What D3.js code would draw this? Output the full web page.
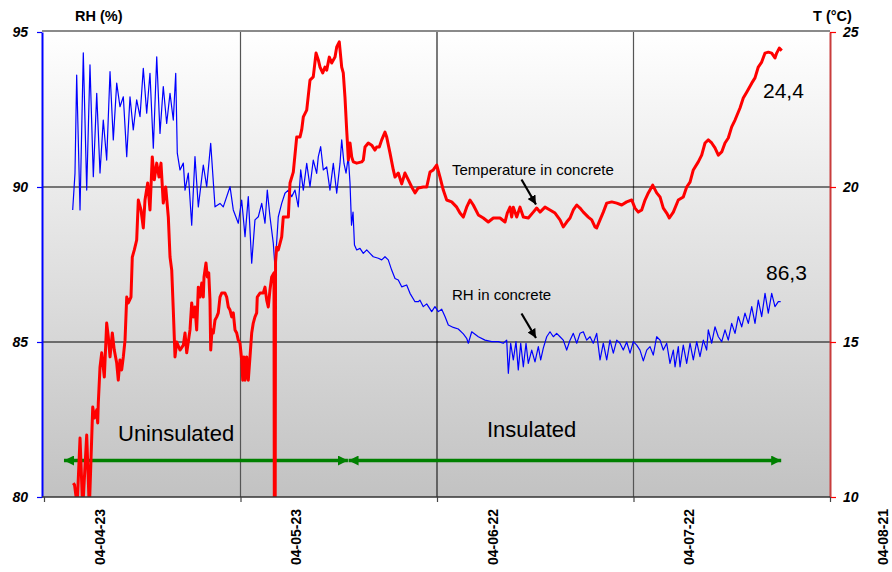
<!DOCTYPE html>
<html>
<head>
<meta charset="utf-8">
<script src="https://cdn.jsdelivr.net/npm/d3@7"></script>
<style>
  body { margin: 0; background: #fff; }
  svg { display: block; }
  text { font-family: "Liberation Sans", Arial, sans-serif; }
</style>
</head>
<body>
<svg id="chart" width="892" height="572"></svg>
<script>
// Axis labels and ticks
const dateLabels = ["04-04-23", "04-05-23", "04-06-22", "04-07-22", "04-08-21"];
const rhTicks = [80, 85, 90, 95];
const tempTicks = [10, 15, 20, 25];

// Readings: [day since 2004-04-14 12:00, value]
const rhReadings = [
  [4.38,89.26],[4.73,90.44],[4.99,93.61],[5.50,89.26],[6.00,94.33],[6.52,89.90],[7.02,93.94],[7.53,90.33],
  [8.05,93.02],[8.55,90.45],[9.05,92.16],[9.57,90.87],[10.08,93.72],[10.58,91.52],[11.10,93.35],[11.60,92.59],
  [12.11,92.91],[12.63,90.98],[13.13,92.91],[13.63,91.84],[14.15,92.81],[14.66,92.27],[15.16,93.83],[15.68,92.38],
  [16.18,93.67],[16.69,91.25],[17.21,94.20],[17.71,91.73],[18.21,93.24],[18.73,92.05],[19.24,93.02],[19.74,92.16],
  [20.11,93.67],[20.35,91.09],[20.76,90.55],[21.27,90.77],[21.53,89.90],[22.03,90.45],[22.55,88.77],[23.05,90.98],
  [23.56,89.36],[24.32,90.71],[24.84,90.01],[25.45,91.41],[26.11,89.36],[26.87,89.47],[27.37,89.36],[28.40,90.01],
  [28.90,89.26],[29.66,88.83],[30.18,89.58],[30.69,88.40],[31.19,89.69],[31.71,87.54],[32.21,88.94],[32.72,89.04],
  [33.24,89.47],[33.74,88.83],[34.09,89.90],[34.50,89.04],[35.01,88.18],[35.27,87.39],[35.77,89.04],[36.29,89.47],
  [36.79,89.80],[37.30,89.90],[37.82,89.69],[38.32,89.90],[38.82,89.36],[39.19,90.55],[39.59,89.90],[40.11,90.76],
  [40.61,90.01],[41.11,90.87],[41.63,90.44],[41.88,90.98],[42.24,91.30],[42.64,90.55],[43.16,90.65],[43.66,89.90],
  [44.17,90.76],[44.69,89.80],[45.19,90.76],[45.45,91.52],[45.80,90.76],[46.11,90.45],[46.46,90.98],[46.72,90.12],
  [46.95,88.77],[47.18,89.19],[47.40,88.13],[47.74,87.97],[48.24,88.02],[48.75,87.86],[49.27,87.97],[49.77,87.86],
  [50.27,87.75],[51.04,87.70],[51.56,87.65],[52.06,87.75],[52.56,87.65],[53.08,87.32],[53.59,87.05],[54.09,87.00],
  [54.61,86.78],[55.37,86.84],[55.88,86.57],[56.64,86.30],[57.14,86.30],[57.40,86.35],[57.91,86.14],[58.43,86.23],
  [59.19,85.98],[59.69,86.14],[60.20,85.98],[60.72,86.06],[61.22,85.82],[61.73,85.55],[62.49,85.47],[63.25,85.42],
  [64.02,85.26],[64.53,85.12],[64.78,84.96],[65.30,85.33],[66.31,85.17],[67.33,85.06],[68.35,85.01],[69.36,85.01],
  [70.12,84.96],[70.64,85.06],[70.89,83.99],[71.25,84.96],[71.65,84.42],[72.06,85.01],[72.41,84.10],[72.78,84.96],
  [73.18,84.20],[73.59,84.96],[73.94,84.31],[74.46,84.74],[74.96,84.36],[75.47,84.85],[75.83,84.42],[76.23,84.80],
  [76.75,85.17],[77.25,85.33],[77.76,85.17],[78.27,85.28],[78.78,85.17],[79.28,85.06],[79.80,84.74],[80.31,85.06],
  [80.81,85.28],[81.33,84.96],[81.83,85.28],[82.34,85.33],[82.85,85.06],[83.36,85.17],[83.86,84.96],[84.38,85.28],
  [84.89,84.42],[85.39,84.96],[85.91,84.42],[86.41,85.06],[86.92,84.64],[87.44,85.06],[87.94,84.96],[88.44,84.74],
  [88.96,85.00],[89.47,84.64],[89.97,85.01],[90.49,84.90],[90.99,84.74],[91.50,84.39],[92.02,84.74],[92.52,84.85],
  [93.02,84.58],[93.54,85.17],[94.05,85.06],[94.55,84.74],[95.07,84.96],[95.57,84.31],[96.08,84.74],[96.34,84.20],
  [96.84,84.85],[97.10,84.20],[97.60,84.90],[98.12,84.31],[98.63,84.96],[99.13,84.42],[99.65,85.01],[100.15,84.53],
  [100.66,85.06],[101.17,84.74],[101.42,85.39],[101.94,84.96],[102.44,85.49],[102.95,85.17],[103.47,85.01],[103.97,85.39],
  [104.47,85.06],[104.99,85.60],[105.50,85.28],[106.00,85.82],[106.52,85.49],[107.02,85.93],[107.53,85.60],[108.05,86.14],
  [108.55,85.60],[109.05,86.35],[109.57,85.82],[110.08,86.57],[110.58,85.93],[111.10,86.57],[111.60,86.14],[112.11,86.30],
  [112.47,86.30]
];

const tempReadings = [
  [4.47,10.45],[4.66,10.39],[4.96,9.90],[5.04,9.60],[5.50,11.90],[5.91,9.60],[6.52,12.00],[6.92,9.60],
  [7.44,12.90],[7.71,12.55],[8.05,12.81],[8.20,12.39],[8.29,13.03],[8.55,14.19],[8.81,14.65],[9.21,13.87],
  [9.57,15.61],[9.82,15.16],[10.08,14.52],[10.43,15.29],[10.73,14.74],[11.10,14.32],[11.34,13.77],[11.60,14.42],
  [11.86,14.10],[12.11,14.52],[12.37,15.06],[12.63,16.45],[12.87,16.26],[13.28,16.45],[13.48,17.74],[13.79,17.97],
  [14.15,18.29],[14.40,19.58],[14.81,19.26],[15.16,18.68],[15.42,19.58],[15.83,20.13],[16.18,19.26],[16.53,20.97],
  [16.84,20.23],[17.21,20.77],[17.56,20.32],[17.86,20.77],[18.21,19.48],[18.58,20.00],[18.98,19.03],[19.24,17.74],
  [19.50,17.32],[19.74,16.03],[20.00,14.52],[20.26,15.00],[20.76,14.74],[21.27,14.90],[21.53,15.29],[21.79,14.65],
  [22.29,15.39],[22.55,16.26],[22.79,15.81],[23.05,16.13],[23.31,15.39],[23.56,16.77],[23.82,16.45],[24.08,16.90],
  [24.32,16.45],[24.43,17.10],[24.73,17.55],[24.93,17.10],[25.15,17.23],[25.34,16.35],[25.45,14.74],[25.65,15.39],
  [25.85,15.29],[26.11,15.71],[26.37,15.81],[26.61,15.94],[26.87,16.45],[27.13,16.58],[27.63,16.58],[27.89,16.45],
  [28.14,16.13],[28.40,16.03],[28.66,15.81],[28.90,15.94],[29.16,15.39],[29.42,15.29],[29.66,15.06],[29.92,14.97],
  [30.18,14.42],[30.34,13.77],[30.53,14.52],[30.69,13.77],[30.95,14.52],[31.19,13.77],[31.45,14.52],[31.71,15.29],
  [31.95,15.61],[32.21,15.81],[32.47,15.94],[32.56,16.45],[32.98,16.58],[33.48,16.58],[33.74,16.77],[34.00,16.35],
  [34.24,16.13],[34.50,16.68],[34.76,17.10],[35.11,17.23],[35.23,0.00],[35.35,17.58],[35.53,18.06],[35.77,17.97],
  [36.29,18.39],[36.53,19.03],[36.79,19.03],[37.30,19.03],[37.56,20.13],[38.06,20.48],[38.58,21.61],[39.08,21.61],
  [39.34,21.84],[39.59,22.26],[40.11,22.48],[40.61,23.45],[41.11,23.55],[41.53,24.32],[41.88,24.10],[42.14,23.87],
  [42.55,23.68],[42.90,23.87],[43.16,23.77],[43.56,24.19],[43.92,24.00],[44.43,24.19],[44.69,24.52],[45.08,24.68],
  [45.45,23.87],[45.69,23.68],[45.95,22.90],[46.21,21.84],[46.30,21.52],[46.46,20.87],[46.72,21.42],[46.98,20.97],
  [47.22,20.81],[47.74,20.77],[48.50,20.81],[48.75,20.87],[49.01,21.29],[49.51,21.42],[50.03,21.35],[50.53,21.19],
  [50.79,21.29],[51.19,21.29],[51.56,21.52],[52.06,21.77],[52.32,21.61],[52.82,21.10],[53.33,20.55],[53.59,20.32],
  [54.09,20.45],[54.61,20.10],[55.11,20.45],[55.62,20.23],[56.14,20.00],[56.64,19.81],[57.14,19.97],[57.91,20.00],
  [58.43,20.00],[58.93,20.48],[59.43,20.55],[59.95,20.71],[60.46,20.32],[60.96,19.90],[61.48,19.58],[62.24,19.52],
  [63.01,19.35],[63.51,19.16],[64.02,19.03],[64.53,19.35],[65.04,19.58],[65.54,19.42],[66.31,19.10],[67.07,19.00],
  [67.83,18.87],[68.60,19.00],[69.62,19.00],[70.38,18.87],[70.73,19.16],[71.15,19.35],[71.40,19.03],[71.65,19.35],
  [72.17,19.03],[72.67,19.35],[73.18,19.03],[73.94,19.00],[74.70,19.19],[75.22,19.32],[75.73,19.19],[76.49,19.35],
  [77.25,19.26],[78.02,19.16],[78.78,18.94],[79.28,18.71],[79.80,18.87],[80.31,19.00],[80.81,19.26],[81.33,19.42],
  [81.83,19.32],[82.34,19.19],[83.10,19.03],[83.62,18.94],[84.12,18.71],[84.38,18.68],[84.89,18.94],[85.39,19.19],
  [85.91,19.48],[86.67,19.52],[87.44,19.48],[88.20,19.42],[88.96,19.52],[89.73,19.58],[90.23,19.32],[90.73,19.19],
  [91.25,19.26],[91.76,19.58],[92.26,19.81],[92.93,20.06],[93.54,19.81],[94.05,19.68],[94.55,19.32],[95.07,19.16],
  [95.47,19.00],[96.08,19.19],[96.84,19.58],[97.60,19.68],[98.12,20.00],[98.63,20.16],[99.13,20.55],[99.89,20.81],
  [100.41,21.03],[100.92,21.42],[101.42,21.52],[101.94,21.42],[102.44,21.26],[102.95,21.03],[103.47,21.13],[103.97,21.42],
  [104.47,21.58],[104.99,21.94],[105.50,22.16],[106.26,22.55],[106.76,22.87],[107.28,23.06],[108.05,23.35],[108.55,23.52],
  [109.05,23.87],[109.57,24.03],[110.08,24.32],[110.58,24.35],[111.10,24.32],[111.60,24.16],[111.86,24.32],[112.26,24.48],
  [112.63,24.40]
];

// Final readings shown as text next to the curve ends
const rhEnd = rhReadings[rhReadings.length - 1][1];
const tempEnd = tempReadings[tempReadings.length - 1][1];

// Period spans: [from day, to day]
const periodUninsulated = [3.05, 46.4];
const periodInsulated = [46.5, 112.55];

const svg = d3.select("#chart");
const W = 892;
const plot = { left: 42, right: 830, top: 32, bottom: 497 };

const start = new Date(2004, 3, 14, 12);
const toDate = d => new Date(start.getTime() + d * 864e5);
const parseLabel = d3.timeParse("%y-%m-%d");

const x = d3.scaleTime().domain([start, toDate(120)]).range([44, 830]);
const yRH = d3.scaleLinear().domain([80, 95]).range([plot.bottom, plot.top]);
const yT = d3.scaleLinear().domain([10, 25]).range([plot.bottom, plot.top]);

const defs = svg.append("defs");
const grad = defs.append("linearGradient").attr("id", "bg")
  .attr("x1", 0).attr("y1", 0).attr("x2", 0).attr("y2", 1);
grad.append("stop").attr("offset", "0%").attr("stop-color", "#ffffff");
grad.append("stop").attr("offset", "100%").attr("stop-color", "#c2c2c2");

defs.append("clipPath").attr("id", "plotClip").append("rect")
  .attr("x", plot.left).attr("y", plot.top)
  .attr("width", plot.right - plot.left).attr("height", plot.bottom - plot.top);

function arrowMarker(id, color, len, half) {
  defs.append("marker").attr("id", id)
    .attr("markerUnits", "userSpaceOnUse")
    .attr("viewBox", `0 ${-half} ${len} ${half * 2}`)
    .attr("refX", len).attr("refY", 0)
    .attr("markerWidth", len).attr("markerHeight", half * 2)
    .attr("orient", "auto-start-reverse")
    .append("path").attr("d", `M0,${-half}L${len},0L0,${half}Z`).attr("fill", color);
}
arrowMarker("greenHead", "#008000", 10, 5);
arrowMarker("blackHead", "#000000", 9, 4.5);

// Plot background
svg.append("rect")
  .attr("x", plot.left).attr("y", plot.top)
  .attr("width", plot.right - plot.left).attr("height", plot.bottom - plot.top)
  .attr("fill", "url(#bg)");

// Grid
const gridDays = [30, 60, 90];
svg.append("g").selectAll("line").data(gridDays).join("line")
  .attr("x1", d => x(toDate(d))).attr("x2", d => x(toDate(d)))
  .attr("y1", plot.top).attr("y2", plot.bottom)
  .attr("stroke", (d, i) => i === 1 ? "#222" : "#555").attr("stroke-width", 1.2);
svg.append("g").selectAll("line").data([85, 90]).join("line")
  .attr("x1", plot.left).attr("x2", plot.right)
  .attr("y1", d => yRH(d)).attr("y2", d => yRH(d))
  .attr("stroke", "#000").attr("stroke-width", 1);

// Top border
svg.append("line").attr("x1", plot.left).attr("x2", plot.right)
  .attr("y1", plot.top - 1).attr("y2", plot.top - 1)
  .attr("stroke", "#8a8a8a").attr("stroke-width", 2);

// Period arrows
const arrowY = 460.5;
[periodUninsulated, periodInsulated].forEach(p => {
  svg.append("line")
    .attr("x1", x(toDate(p[0]))).attr("x2", x(toDate(p[1])))
    .attr("y1", arrowY).attr("y2", arrowY)
    .attr("stroke", "#008000").attr("stroke-width", 3.5)
    .attr("marker-start", "url(#greenHead)").attr("marker-end", "url(#greenHead)");
});

// Series
const lineRH = d3.line().x(d => x(toDate(d[0]))).y(d => yRH(d[1]));
const lineT = d3.line().x(d => x(toDate(d[0]))).y(d => yT(d[1]));
const series = svg.append("g").attr("clip-path", "url(#plotClip)");
series.append("path").datum(rhReadings).attr("d", lineRH)
  .attr("fill", "none").attr("stroke", "#0000ff").attr("stroke-width", 1.2)
  .attr("stroke-linejoin", "round");
series.append("path").datum(tempReadings).attr("d", lineT)
  .attr("fill", "none").attr("stroke", "#ff0000").attr("stroke-width", 3)
  .attr("stroke-linejoin", "round");

// Left axis (RH)
const axL = svg.append("g").attr("transform", `translate(${plot.left},0)`)
  .call(d3.axisLeft(yRH).tickValues(rhTicks).tickSize(5).tickSizeOuter(0).tickPadding(9));
axL.select(".domain").attr("stroke", "#0000ff").attr("stroke-width", 2);
axL.selectAll(".tick line").attr("stroke", "#0000ff").attr("stroke-width", 1.2);
axL.selectAll(".tick text").attr("font-family", "Liberation Sans, Arial, sans-serif")
  .attr("font-size", 14).attr("font-weight", "bold").attr("font-style", "italic").attr("fill", "#000");

// Right axis (temperature)
const axR = svg.append("g").attr("transform", `translate(${plot.right},0)`)
  .call(d3.axisRight(yT).tickValues(tempTicks).tickSize(6).tickSizeOuter(0).tickPadding(7));
axR.select(".domain").attr("stroke", "#c83c3c").attr("stroke-width", 2);
axR.selectAll(".tick line").attr("stroke", "#ff0000").attr("stroke-width", 1.2);
axR.selectAll(".tick text").attr("font-family", "Liberation Sans, Arial, sans-serif")
  .attr("font-size", 14).attr("font-weight", "bold").attr("font-style", "italic").attr("fill", "#000");

// Bottom axis
const axB = svg.append("g").attr("transform", `translate(0,${plot.bottom})`)
  .call(d3.axisBottom(x).tickValues([0, 30, 60, 90, 120].map(toDate))
    .tickSize(5).tickSizeOuter(0).tickFormat(""));
axB.select(".domain").attr("stroke", "#333").attr("stroke-width", 1.6)
  .attr("d", `M${plot.left},0H${plot.right}`);
axB.selectAll(".tick line").attr("stroke", "#444").attr("stroke-width", 1.2);

// Rotated date labels; the last one is held inside the page edge
svg.append("g").selectAll("text").data(dateLabels).join("text")
  .attr("transform", d => `translate(${Math.min(x(parseLabel(d)) + 5, W - 4)},509) rotate(-90)`)
  .attr("text-anchor", "end")
  .attr("font-size", 14).attr("font-weight", "bold").attr("fill", "#000")
  .text(d => d);

// Axis titles
svg.append("text").attr("x", 75).attr("y", 21).attr("font-size", 14.5)
  .attr("font-weight", "bold").text("RH (%)");
svg.append("text").attr("x", 813).attr("y", 21).attr("font-size", 14.5)
  .attr("font-weight", "bold").text("T (°C)");

// Annotations
svg.append("text").attr("x", 118).attr("y", 441).attr("font-size", 22).text("Uninsulated");
svg.append("text").attr("x", 487).attr("y", 436.5).attr("font-size", 22).text("Insulated");
const fmt = v => d3.format(".1f")(v).replace(".", ",");
svg.append("text").attr("x", 763).attr("y", 97.5).attr("font-size", 21).text(fmt(tempEnd));
svg.append("text").attr("x", 766).attr("y", 279.5).attr("font-size", 21).text(fmt(rhEnd));
svg.append("text").attr("x", 452).attr("y", 175).attr("font-size", 15).text("Temperature in concrete");
svg.append("text").attr("x", 452).attr("y", 299.5).attr("font-size", 15).text("RH in concrete");

[[521.5, 179.5, 536, 204.5], [521.5, 313.5, 536, 338]].forEach(a => {
  svg.append("line").attr("x1", a[0]).attr("y1", a[1]).attr("x2", a[2]).attr("y2", a[3])
    .attr("stroke", "#000").attr("stroke-width", 2.2).attr("marker-end", "url(#blackHead)");
});
</script>
</body>
</html>
